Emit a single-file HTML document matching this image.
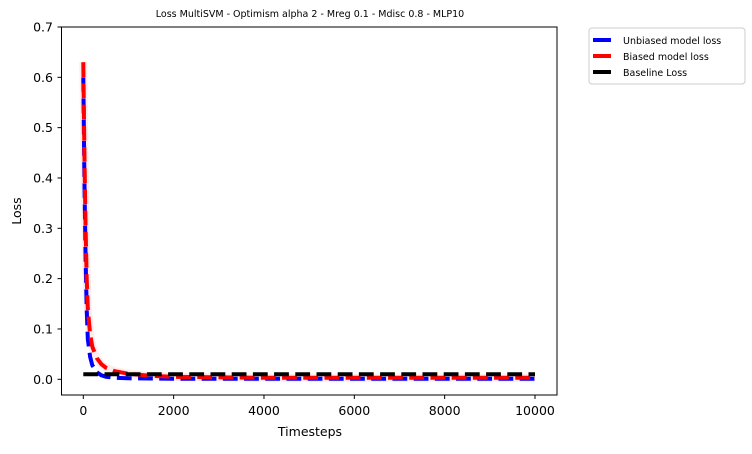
<!DOCTYPE html>
<html><head><meta charset="utf-8"><style>
body{margin:0;background:#fff;}
svg{font-family:"DejaVu Sans","Liberation Sans",sans-serif;}
</style></head><body>
<svg id="chart" width="752" height="449" xmlns="http://www.w3.org/2000/svg">
<text x="310" y="17" font-size="9.5" text-anchor="middle">Loss MultiSVM - Optimism alpha 2 - Mreg 0.1 - Mdisc 0.8 - MLP10</text>
<g id="grid"></g>
<g id="plot"></g>
<rect x="61.5" y="27" width="495.5" height="368" fill="none" stroke="#000" stroke-width="1"/>
<text x="310" y="436" font-size="12.5" text-anchor="middle">Timesteps</text>
<text x="21" y="211" font-size="12.5" text-anchor="middle" transform="rotate(-90 21 211)">Loss</text>
<g>
<rect x="589" y="28" width="156" height="56" rx="3" fill="#fff" stroke="#ccc"/>
<line x1="593" y1="40" x2="611" y2="40" stroke="#00f" stroke-width="4"/>
<text x="623" y="44" font-size="9.5">Unbiased model loss</text>
<line x1="593" y1="56" x2="611" y2="56" stroke="#f00" stroke-width="4"/>
<text x="623" y="60" font-size="9.5">Biased model loss</text>
<line x1="593" y1="72" x2="611" y2="72" stroke="#000" stroke-width="4"/>
<text x="623" y="76" font-size="9.5">Baseline Loss</text>
</g>
</svg>
<script>
const steps = [0,25,50,75,100,150,200,300,400,500,700,1000,1500,2000,3000,4000,5000,6000,7000,8000,9000,10000];
const unbiased = [0.6,0.4,0.24,0.14,0.08,0.045,0.028,0.014,0.008,0.005,0.003,0.002,0.0015,0.001,0.001,0.001,0.001,0.001,0.001,0.001,0.001,0.001];
const biased = [0.63,0.45,0.3,0.2,0.14,0.09,0.065,0.042,0.03,0.023,0.016,0.011,0.007,0.005,0.004,0.003,0.003,0.003,0.003,0.003,0.003,0.003];
const baseline = [0.01,0.01];
const baselineSteps = [0,10000];
const xTicks = [0,2000,4000,6000,8000,10000];
const yTicks = [0,0.1,0.2,0.3,0.4,0.5,0.6,0.7];
const NS="http://www.w3.org/2000/svg";
const xs = v => 83.3 + v/10000*(535-83.3);
const ys = v => 379.3 - v/0.1*50.33;
const grid = document.getElementById('grid');
const plot = document.getElementById('plot');
function mk(t,a,p){const e=document.createElementNS(NS,t);for(const k in a)e.setAttribute(k,a[k]);p.appendChild(e);return e;}
xTicks.forEach(t=>{
  const l=mk('line',{x1:xs(t),x2:xs(t),y1:395,y2:399,stroke:'#000'},grid);
  
  
  const tx=mk('text',{x:xs(t),y:415,'font-size':12.5,'text-anchor':'middle'},grid);tx.textContent=t;
  
  
});
yTicks.forEach(t=>{
  const l=mk('line',{x1:57.5,x2:61.5,y1:ys(t),y2:ys(t),stroke:'#000'},grid);
  
  
  const tx=mk('text',{x:53,y:ys(t)+4.5,'font-size':12.5,'text-anchor':'end'},grid);tx.textContent=t.toFixed(1);
  
  
});
function pts(xv,yv){return xv.map((x,i)=>xs(x).toFixed(1)+','+ys(yv[i]).toFixed(1)).join(' ');}
const band=mk('polyline',{points:pts(steps,biased),fill:'none',stroke:'rgba(255,0,0,0.08)','stroke-width':8},plot);


const u=mk('polyline',{points:pts(steps,unbiased),fill:'none',stroke:'#00f','stroke-width':4,'stroke-dasharray':'14.8 6.4'},plot);


const b=mk('polyline',{points:pts(steps,biased),fill:'none',stroke:'#f00','stroke-width':4,'stroke-dasharray':'14.8 6.4'},plot);


const k=mk('polyline',{points:pts(baselineSteps,baseline),fill:'none',stroke:'#000','stroke-width':4,'stroke-dasharray':'14.8 6.4'},plot);


</script>
</body></html>
